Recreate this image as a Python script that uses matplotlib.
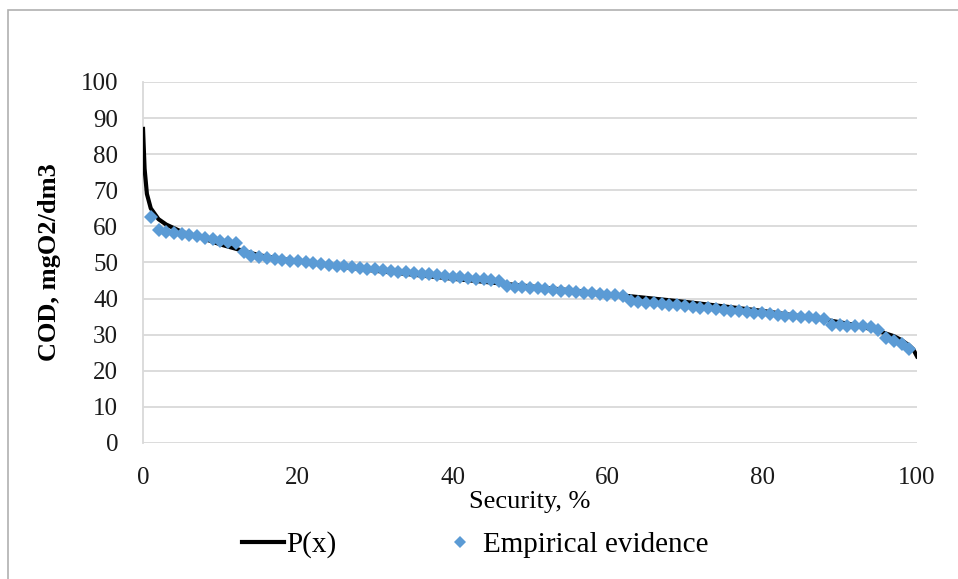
import matplotlib
matplotlib.use("Agg")
import matplotlib.pyplot as plt
from matplotlib.patches import Rectangle

# P(x) curve
px_x = [0, 0.2, 0.5, 1, 2, 3, 5, 8, 10, 15, 20, 30, 40, 50, 60, 70, 80,
        88, 92, 95, 97, 98, 99, 99.5, 100]
px_y = [87, 76, 69, 65, 62, 60.5, 58.5, 56.5, 55, 52, 50.3, 47.7, 45.5,
        43.4, 41.3, 39.1, 36.6, 34.2, 32.7, 31, 29.6, 28.5, 27, 26, 24]

# empirical evidence, one point per percent (1..99)
emp_x = list(range(1, 100))
emp_y = [62.5,
         59.0, 58.5, 58.2, 57.9, 57.6, 57.2, 56.8, 56.4, 56.0, 55.7, 55.4,
         52.8,
         51.8, 51.5, 51.2, 51.0, 50.8, 50.5, 50.3, 50.0, 49.8, 49.6, 49.3,
         49.1, 48.9, 48.7, 48.5, 48.3, 48.1, 47.9, 47.7, 47.5, 47.3, 47.1,
         46.9, 46.7, 46.5, 46.3, 46.1, 45.9, 45.7, 45.5, 45.3, 45.1, 44.9,
         43.5, 43.3, 43.1, 42.9, 42.8, 42.6, 42.4, 42.2, 42.0, 41.8, 41.6,
         41.5, 41.3, 41.1, 40.9, 40.7,
         39.4, 39.1, 38.9, 38.7, 38.5, 38.3, 38.1, 37.9, 37.7, 37.5, 37.3,
         37.1, 36.9, 36.7, 36.5, 36.3, 36.1, 35.9, 35.7, 35.5, 35.3, 35.1,
         34.9, 34.8, 34.6, 34.4,
         32.8, 32.6, 32.5, 32.4, 32.3, 32.0, 31.3,
         29.0, 28.2, 27.3, 26.0]

y_ticks = list(range(0, 101, 10))
x_ticks = [0, 20, 40, 60, 80, 100]

plt.rcParams['font.family'] = ['Liberation Serif', 'DejaVu Serif']

fig = plt.figure(figsize=(9.58, 5.79), dpi=100)
ax = fig.add_axes([0.1493, 0.2349, 0.8079, 0.6235])

grid_col = '#d9d9d9'
# outer frame (only left and top edges are inside the image)
fig.patches.append(Rectangle((8 / 958, -0.1), 1.2, 569 / 579 + 0.1,
                             transform=fig.transFigure, fill=False,
                             edgecolor='#b0b0b0', linewidth=1.2))

ax.plot(px_x, px_y, color='black', linewidth=3.0, label='P(x)', zorder=3)
ax.plot(emp_x, emp_y, linestyle='none', marker='D', markersize=7.5,
        color='#5b9bd5', markeredgewidth=0, label='Empirical evidence',
        zorder=4)

ax.set_xlim(0, 100)
ax.set_ylim(0, 100)
ax.set_xticks(x_ticks)
ax.set_yticks(y_ticks)
ax.yaxis.grid(True, color=grid_col, linewidth=1.3)
ax.set_axisbelow(True)
for side in ['top', 'right', 'bottom']:
    ax.spines[side].set_visible(False)
ax.spines['left'].set_color(grid_col)
ax.spines['left'].set_linewidth(1.3)
ax.tick_params(axis='both', length=0, labelsize=18, colors='#1a1a1a')
ax.tick_params(axis='y', pad=18)
ax.tick_params(axis='x', pad=17)

ax.set_xlabel('Security, %', fontsize=19, labelpad=2)
ax.set_ylabel('COD, mgO2/dm3', fontsize=19, fontweight='bold', labelpad=14)

leg = fig.legend(loc='center left', bbox_to_anchor=(0.225, 0.059), ncol=2,
                 frameon=False, fontsize=21, handlelength=1.45,
                 handletextpad=0.07, columnspacing=3.5, markerscale=0.8)

fig.savefig('out.png', dpi=100)
